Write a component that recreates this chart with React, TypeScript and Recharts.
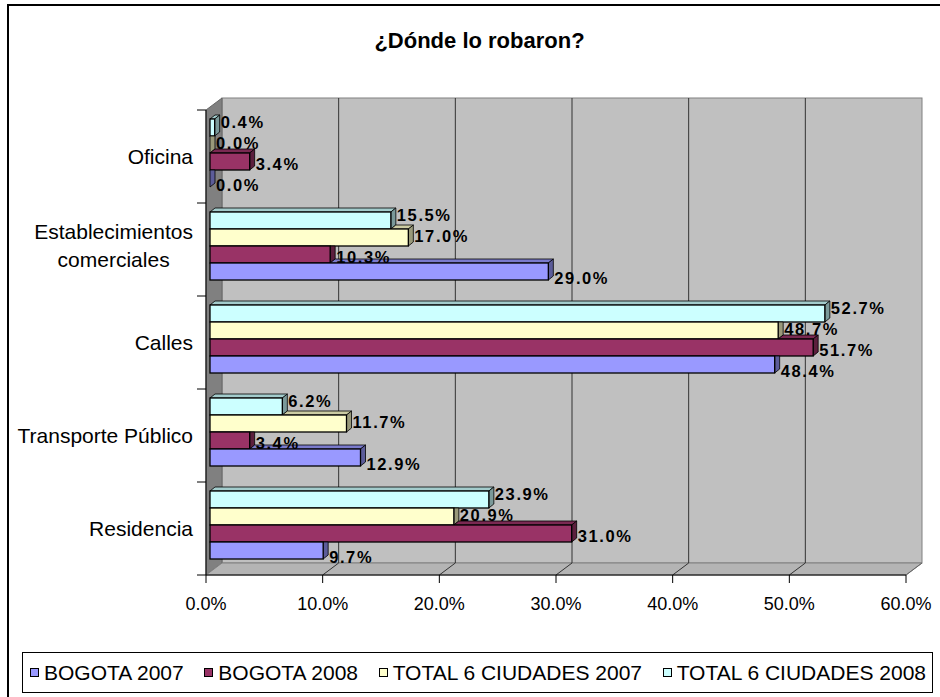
import React from 'react';
import { BarChart, Bar, XAxis, YAxis, LabelList, Customized } from 'recharts';

// categories top -> bottom
const categories = ['Oficina', 'Establecimientos\ncomerciales', 'Calles', 'Transporte Público', 'Residencia'];
const bogota2007 = [0.0, 29.0, 48.4, 12.9, 9.7];
const bogota2008 = [3.4, 10.3, 51.7, 3.4, 31.0];
const total2007 = [0.0, 17.0, 48.7, 11.7, 20.9];
const total2008 = [0.4, 15.5, 52.7, 6.2, 23.9];
const xTicks = [0, 10, 20, 30, 40, 50, 60];

const legendOrder = [
  { key: 'b07', name: 'BOGOTA 2007', front: '#9999FF', top: '#7A7ACC', side: '#5C5C99' },
  { key: 'b08', name: 'BOGOTA 2008', front: '#993366', top: '#7A2952', side: '#5C1F3D' },
  { key: 't07', name: 'TOTAL 6 CIUDADES 2007', front: '#FFFFCC', top: '#CCCCA3', side: '#99997A' },
  { key: 't08', name: 'TOTAL 6 CIUDADES 2008', front: '#CCFFFF', top: '#A3CCCC', side: '#7A9999' },
];
// drawing order inside a band: top bar first
const barOrder = [...legendOrder].reverse();

const data = categories.map((name, i) => ({
  name,
  b07: bogota2007[i],
  b08: bogota2008[i],
  t07: total2007[i],
  t08: total2008[i],
}));

const W = 940;
const H = 697;
const PLOT = { left: 206, top: 110, width: 700, height: 465 };
const DEPTH = { dx: 16, dy: -12 };
const SHIFT = { dx: 4, dy: -3 };
const BD = { dx: 5, dy: -4 };
const X_MAX = 60;
const FONT = 'Arial, "Liberation Sans", sans-serif';

const pct = (v: number) => `${v.toFixed(1)}%`;

// back wall, side wall, floor and the gridlines on them
function Walls() {
  const { left, top, width, height } = PLOT;
  const r = left + width;
  const b = top + height;
  const { dx, dy } = DEPTH;
  const band = height / categories.length;
  return (
    <g>
      <rect x={left + dx} y={top + dy} width={width} height={height} fill="#C0C0C0" stroke="#808080" />
      <polygon
        points={`${left},${top} ${left + dx},${top + dy} ${left + dx},${b + dy} ${left},${b}`}
        fill="#808080"
        stroke="#666"
      />
      <polygon
        points={`${left},${b} ${left + dx},${b + dy} ${r + dx},${b + dy} ${r},${b}`}
        fill="#B4B4B4"
        stroke="#808080"
      />
      {xTicks.slice(1).map((t) => {
        const gx = left + (t / X_MAX) * width;
        const last = t === X_MAX;
        return (
          <g key={t}>
            {!last && <line x1={gx + dx} y1={top + dy} x2={gx + dx} y2={b + dy} stroke="#333" />}
            <line x1={gx} y1={b} x2={gx + dx} y2={b + dy} stroke={last ? '#666' : '#333'} />
          </g>
        );
      })}
      {categories.concat(['']).map((_, i) => (
        <line key={i} x1={left - 9} x2={left} y1={top + i * band} y2={top + i * band} stroke="#000" />
      ))}
      <text x={479.5} y={48} textAnchor="middle" fontFamily={FONT} fontWeight="bold" fontSize={22} fill="#000">
        ¿Dónde lo robaron?
      </text>
    </g>
  );
}

function make3DBar(idx: number) {
  const s = barOrder[idx];
  return (props: any) => {
    const { x, y, width, height, payload } = props;
    const k = PLOT.width / X_MAX;
    const ox = x + SHIFT.dx;
    const top = y + SHIFT.dy;
    const bottom = top + height;
    const right = ox + Math.max(width || 0, 0);
    let upperEnd = -Infinity;
    if (idx > 0) upperEnd = ox + payload[barOrder[idx - 1].key] * k;

    // only the part of the top face that is not hidden by the bar above
    let topFace: string | null = null;
    if (right > upperEnd) {
      const l = Math.max(ox, upperEnd);
      topFace = `${l},${top} ${right},${top} ${right + BD.dx},${top + BD.dy} ${l + BD.dx},${top + BD.dy}`;
    }
    const sideFace =
      right >= upperEnd
        ? `${right},${top} ${right + BD.dx},${top + BD.dy} ${right + BD.dx},${bottom + BD.dy} ${right},${bottom}`
        : `${right},${top} ${right + BD.dx},${top} ${right + BD.dx},${bottom + BD.dy} ${right},${bottom}`;

    return (
      <g>
        {topFace && <polygon points={topFace} fill={s.top} stroke="#000" strokeWidth={0.8} />}
        <polygon points={sideFace} fill={s.side} stroke="#000" strokeWidth={0.8} />
        <rect x={ox} y={top} width={right - ox} height={height} fill={s.front} stroke="#000" strokeWidth={1.3} />
      </g>
    );
  };
}

function makeLabel(idx: number) {
  return (props: any) => {
    const { x, y, width, height, value } = props;
    const cx = x + width + SHIFT.dx + 6;
    const cy = y + SHIFT.dy + height / 2 + (idx - 1.5) * 4 + 6;
    return (
      <text x={cx} y={cy} fontFamily={FONT} fontWeight="bold" fontSize={16.5} letterSpacing={1.6} fill="#000">
        {pct(Number(value))}
      </text>
    );
  };
}

let measureCtx: CanvasRenderingContext2D | null = null;
const measure = (t: string, font: string) => {
  if (!measureCtx) measureCtx = document.createElement('canvas').getContext('2d');
  if (!measureCtx) return t.length * 10;
  measureCtx.font = font;
  return measureCtx.measureText(t).width;
};

const CategoryTick = (props: any) => {
  const { x, y, payload } = props;
  const lines = String(payload.value).split('\n');
  if (lines.length === 1) {
    return (
      <text x={x} y={y + 7} textAnchor="end" fontFamily={FONT} fontSize={21} fill="#000">
        {lines[0]}
      </text>
    );
  }
  const maxW = Math.max(...lines.map((l) => measure(l, `21px ${FONT}`)));
  const mx = x - maxW / 2;
  return (
    <g>
      {lines.map((l, i) => (
        <text key={i} x={mx} y={y - 11 + i * 28} textAnchor="middle" fontFamily={FONT} fontSize={21} fill="#000">
          {l}
        </text>
      ))}
    </g>
  );
};

const ValueTick = (props: any) => {
  const { x, y, payload } = props;
  return (
    <text x={x} y={y + 25} textAnchor="middle" fontFamily={FONT} fontSize={18} fill="#000">
      {pct(payload.value)}
    </text>
  );
};

function Legend3D() {
  return (
    <div
      style={{
        position: 'absolute',
        left: 22,
        top: 652,
        width: 911,
        height: 41,
        boxSizing: 'border-box',
        border: '1px solid #000',
        display: 'flex',
        alignItems: 'center',
        justifyContent: 'space-between',
        padding: '0 6px 0 7px',
        fontFamily: FONT,
        fontSize: 21,
        background: '#fff',
      }}
    >
      {legendOrder.map((s) => (
        <div key={s.key} style={{ display: 'flex', alignItems: 'center', whiteSpace: 'nowrap' }}>
          <span
            style={{
              display: 'inline-block',
              width: 7,
              height: 7,
              background: s.front,
              border: '1px solid #000',
              marginRight: 5,
            }}
          />
          {s.name}
        </div>
      ))}
    </div>
  );
}

export default function App() {
  return (
    <div style={{ position: 'absolute', left: 0, top: 0, width: W, height: H, background: '#fff', overflow: 'hidden' }}>
      <div
        style={{
          position: 'absolute',
          left: 7,
          top: 4,
          width: W,
          height: H,
          borderLeft: '2px solid #000',
          borderTop: '2px solid #000',
        }}
      />
      <div style={{ position: 'absolute', left: 0, top: 0 }}>
        <BarChart
          width={W}
          height={H}
          data={data}
          layout="vertical"
          margin={{ top: PLOT.top, right: W - PLOT.left - PLOT.width, bottom: H - PLOT.top - PLOT.height - 40, left: PLOT.left - 190 }}
          barCategoryGap={12}
          barGap={0}
        >
          <Customized component={Walls} />
          <XAxis
            type="number"
            domain={[0, X_MAX]}
            ticks={xTicks}
            height={40}
            axisLine={{ stroke: '#000' }}
            tickLine={{ stroke: '#000' }}
            tickSize={8}
            tickMargin={2}
            tick={<ValueTick />}
            interval={0}
          />
          <YAxis
            type="category"
            dataKey="name"
            width={190}
            axisLine={{ stroke: '#000' }}
            tickLine={false}
            tickSize={9}
            tickMargin={4}
            tick={<CategoryTick />}
            interval={0}
          />
          {barOrder.map((s, i) => (
            <Bar key={s.key} dataKey={s.key} name={s.name} fill={s.front} shape={make3DBar(i)} isAnimationActive={false}>
              <LabelList dataKey={s.key} content={makeLabel(i)} />
            </Bar>
          ))}
        </BarChart>
      </div>
      <Legend3D />
    </div>
  );
}
